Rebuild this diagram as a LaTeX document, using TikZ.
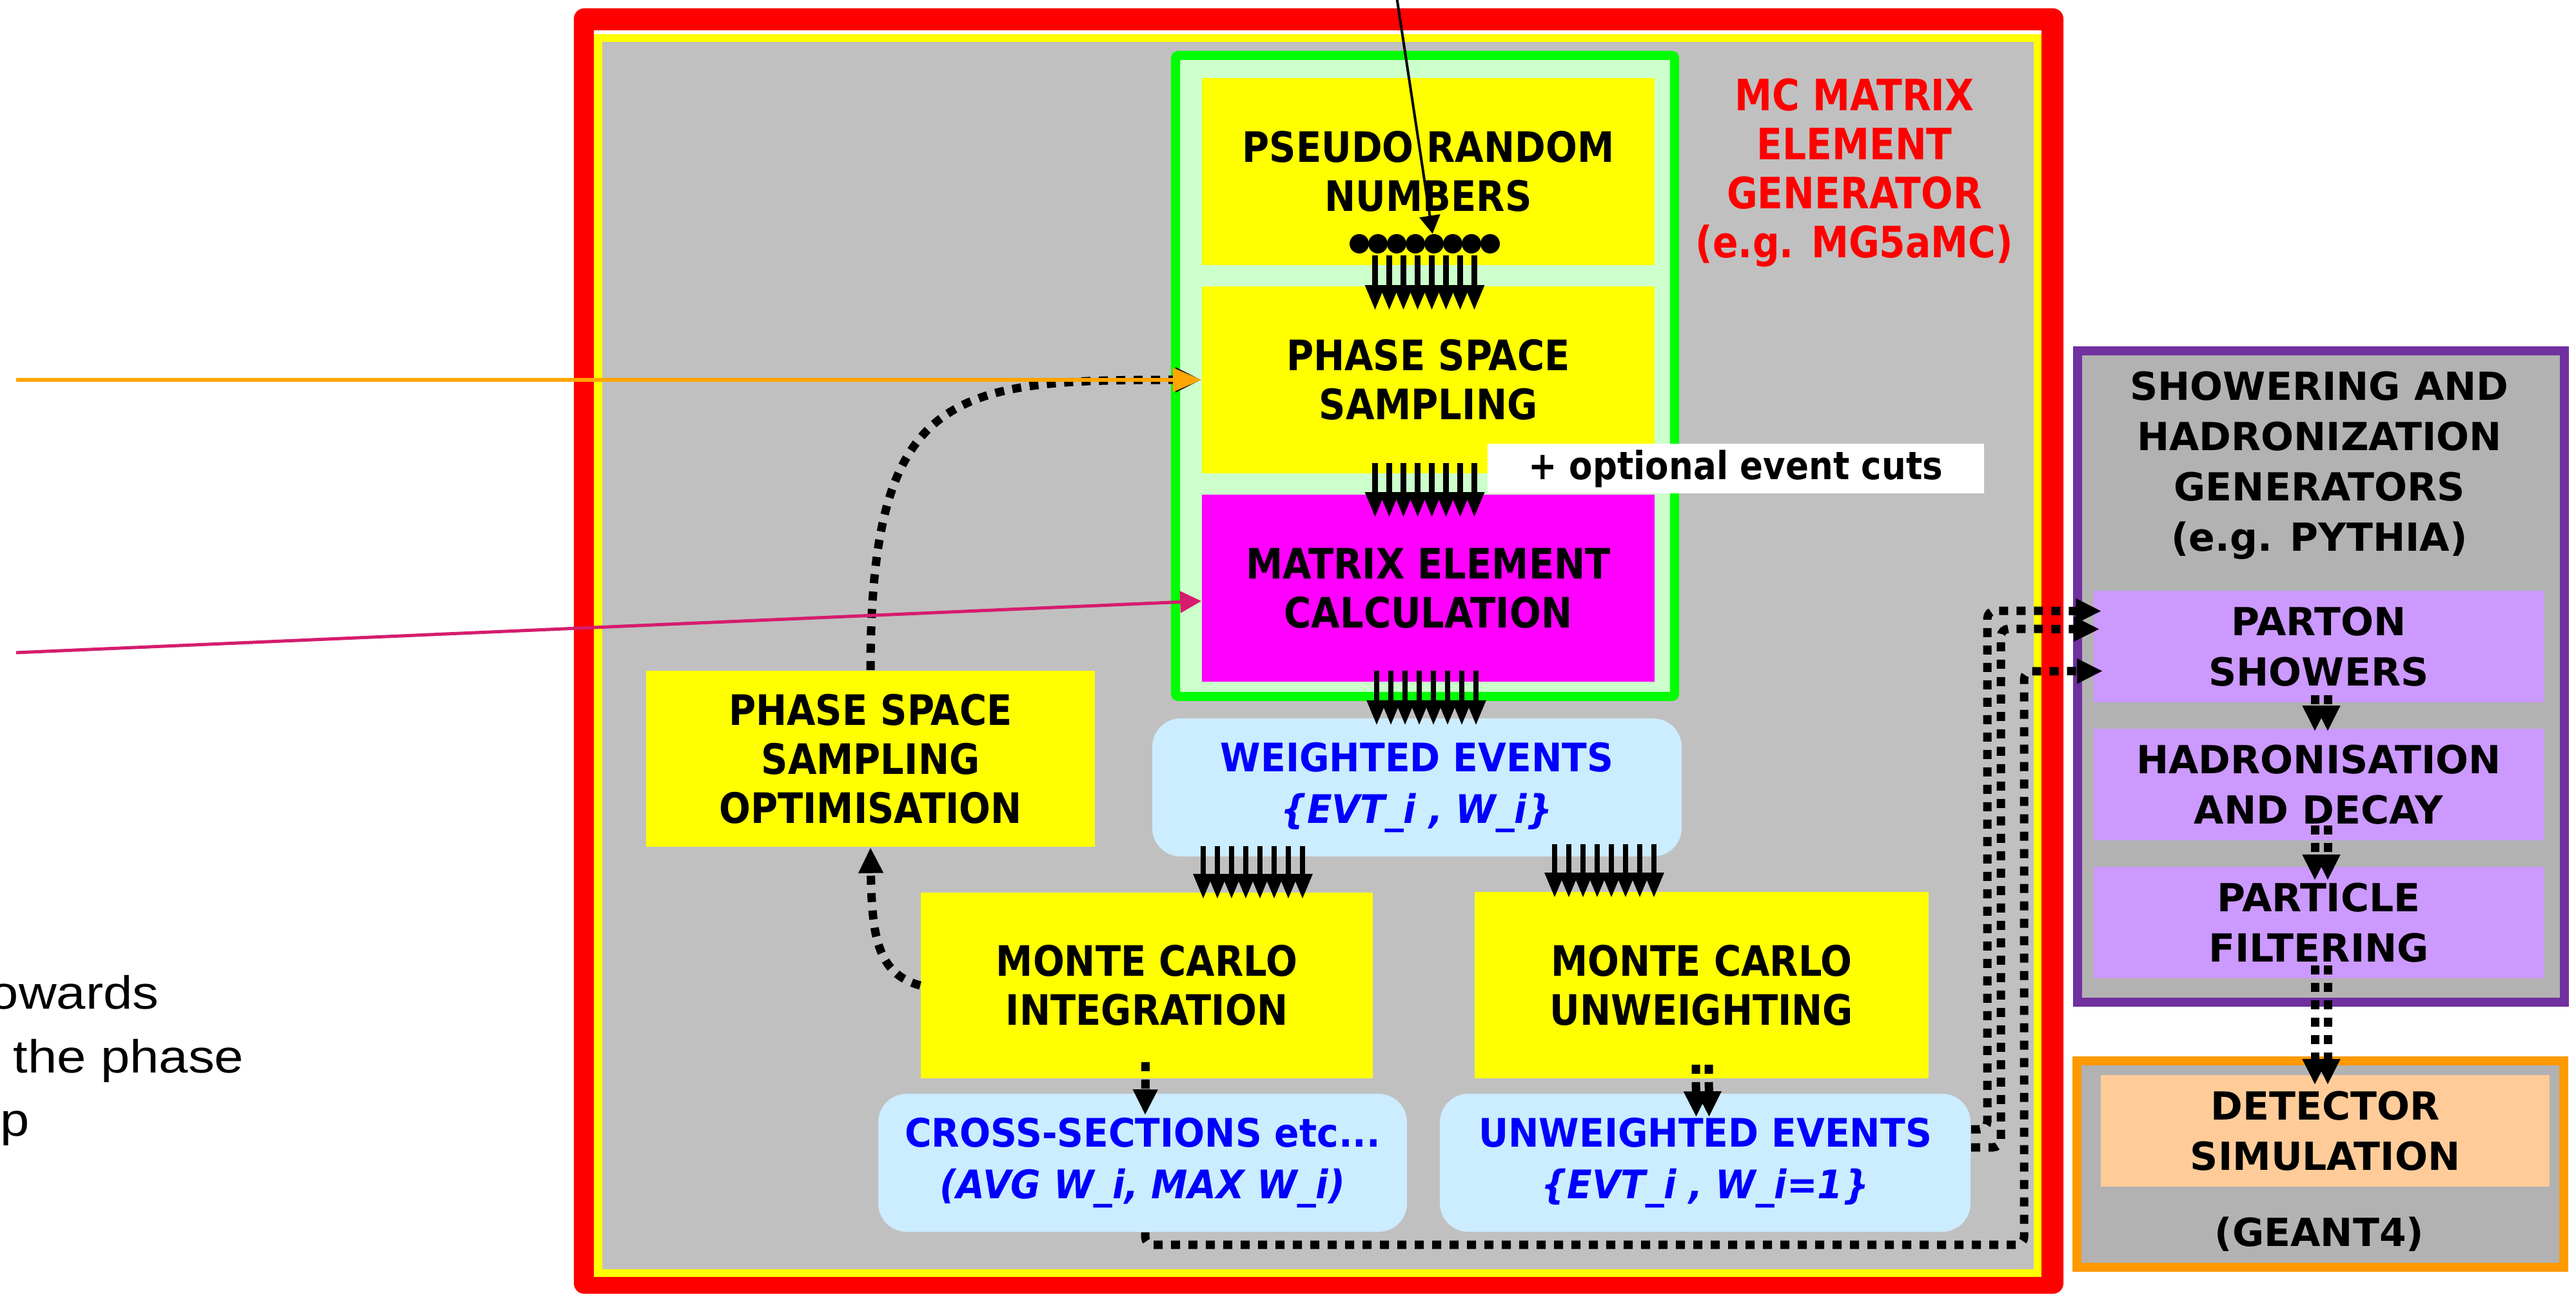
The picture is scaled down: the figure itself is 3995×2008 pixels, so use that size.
\documentclass[tikz,border=0pt]{standalone}
\usepackage{fontspec}
\usetikzlibrary{arrows.meta,calc}
\newfontfamily\tah[FakeStretch=0.885]{DejaVu Sans}
\newfontfamily\tahb[FakeStretch=0.93]{DejaVu Sans}
\newfontfamily\tahr[FakeStretch=0.87]{DejaVu Sans}
\newfontfamily\verd{DejaVu Sans}
\newfontfamily\helv[FakeStretch=1.13]{Liberation Sans}
\definecolor{cRed}{HTML}{FF0000}
\definecolor{cYel}{HTML}{FFFF00}
\definecolor{cGray}{HTML}{C0C0C0}
\definecolor{cGrayB}{HTML}{B2B2B2}
\definecolor{cGreen}{HTML}{00FF00}
\definecolor{cLGreen}{HTML}{CCFFCC}
\definecolor{cMag}{HTML}{FF00FF}
\definecolor{cLBlue}{HTML}{CCECFF}
\definecolor{cBlue}{HTML}{0000FF}
\definecolor{cPurp}{HTML}{7030A0}
\definecolor{cLav}{HTML}{CC99FF}
\definecolor{cOrB}{HTML}{FF9900}
\definecolor{cPeach}{HTML}{FFCC99}
\definecolor{cOrLine}{HTML}{FFA500}
\definecolor{cPink}{HTML}{D61C6E}
\newcommand\bundle[2]{%
  \foreach \k in {0,...,7}{%
    \draw[bund] ($(#1)+(-77+22*\k,0)$) -- ($(#2)+(-77+22*\k,0)$);
  }}
\newcommand\dbl[2]{%
  \draw[dotarr] ($(#1)+(-10,0)$) -- ($(#2)+(-10,0)$);
  \draw[dotarr] ($(#1)+(10,0)$) -- ($(#2)+(10,0)$);}
\begin{document}
\begin{tikzpicture}[x=0.25pt,y=-0.25pt,
  ybox/.style={fill=cYel, inner sep=0pt, align=center, font=\tah\bfseries\fontsize{16.25pt}{19pt}\selectfont},
  bbox/.style={fill=cLBlue, rounded corners=11pt, inner sep=0pt, align=center, text=cBlue, font=\tahb\bfseries\fontsize{15.25pt}{20pt}\selectfont},
  pbox/.style={inner sep=0pt, align=center, font=\verd\bfseries\fontsize{15pt}{19.5pt}\selectfont},
  bund/.style={line width=2.1pt, -{Triangle[width=7.25pt,length=9.75pt]}},
  dotl/.style={line width=3.25pt, dash pattern=on 3.5pt off 3.25pt},
  dotarr/.style={dotl, -{Triangle[width=9pt,length=10pt]}},
  dotc/.style={fill=black, circle, inner sep=0pt, minimum size=7.5pt},
  lefttext/.style={inner sep=0pt, anchor=base east, font=\helv\fontsize{18pt}{24pt}\selectfont}]
\useasboundingbox (0,0) rectangle (3995,2008);
\fill[white] (0,0) rectangle (3995,2008);
% main generator frame
\fill[cRed, rounded corners=4pt] (890,13) rectangle (3200,2006);
\fill[white] (921,47) rectangle (3166,1980);
\fill[cYel] (921,53) rectangle (3166,1980);
\fill[cGray] (934,65) rectangle (3154,1968);
% green group
\draw[cGreen, line width=3.5pt, fill=cLGreen, rounded corners=1pt] (1823,86) rectangle (2597,1080);
% boxes
\node[ybox, minimum width=175.5pt, minimum height=72.5pt] (prn) at (2215,266) {PSEUDO RANDOM\\NUMBERS};
\node[ybox, minimum width=175.5pt, minimum height=72.5pt] (pss) at (2215,589) {PHASE SPACE\\SAMPLING};
\node[ybox, fill=cMag, minimum width=175.5pt, minimum height=72.5pt] (me) at (2215,912) {MATRIX ELEMENT\\CALCULATION};
\node[fill=white, inner sep=0pt, minimum width=192.5pt, minimum height=19.25pt, font=\tah\bfseries\fontsize{15pt}{17pt}\selectfont] (cuts) at (2692,726.5) {+ optional event cuts};
\node[bbox, minimum width=205.25pt, minimum height=53.5pt] (we) at (2197.5,1221) {WEIGHTED EVENTS\\{\itshape \{EVT\_i , W\_i\}}};
\node[ybox, minimum width=174pt, minimum height=68.25pt] (psso) at (1350,1176.5) {PHASE SPACE\\SAMPLING\\OPTIMISATION};
\node[ybox, minimum width=175.25pt, minimum height=72pt] (mci) at (1778.5,1528) {MONTE CARLO\\INTEGRATION};
\node[ybox, minimum width=176pt, minimum height=72.25pt] (mcu) at (2639,1527.5) {MONTE CARLO\\UNWEIGHTING};
\node[bbox, minimum width=205pt, minimum height=53.5pt] (xs) at (1772,1803) {CROSS-SECTIONS etc...\\{\itshape (AVG W\_i, MAX W\_i)}};
\node[bbox, minimum width=205.75pt, minimum height=53.5pt] (ue) at (2644.5,1803) {UNWEIGHTED EVENTS\\{\itshape \{EVT\_i , W\_i=1\}}};
\node[inner sep=0pt, align=center, text=cRed, font=\tahr\bfseries\fontsize{16.75pt}{19pt}\selectfont] (hdr) at (2876,268) {MC MATRIX\\ELEMENT\\GENERATOR\\(e.g. MG5aMC)};
% random number dots
\foreach \k in {1,...,8}{\node[dotc] (d\k) at (2108+29*\k-29,378) {};}
% showering panel
\draw[cPurp, line width=3.5pt, fill=cGrayB] (3222,544) rectangle (3977,1554);
\node[pbox] (shh) at (3597,722) {SHOWERING AND\\HADRONIZATION\\GENERATORS\\(e.g. PYTHIA)};
\node[pbox, fill=cLav, minimum width=174.5pt, minimum height=43.25pt] (ps) at (3596,1002.5) {PARTON\\SHOWERS};
\node[pbox, fill=cLav, minimum width=174.5pt, minimum height=43.25pt] (had) at (3596,1216.5) {HADRONISATION\\AND DECAY};
\node[pbox, fill=cLav, minimum width=174.5pt, minimum height=43.25pt] (pf) at (3596,1430.5) {PARTICLE\\FILTERING};
% detector panel
\draw[cOrB, line width=3.5pt, fill=cGrayB] (3221,1645) rectangle (3976,1965);
\node[pbox, fill=cPeach, minimum width=174pt, minimum height=43.25pt] (det) at (3606,1753.5) {DETECTOR\\SIMULATION};
\node[pbox] (geant) at (3597,1914) {(GEANT4)};
% left text
\node[lefttext] (t1) at (247,1565) {owards};
\node[lefttext] (t2) at (379,1664) {the phase};
\node[lefttext] (t3) at (47,1761) {p};
% arrow bundles
\coordinate (b1s) at ($(prn.south)+(-5.5,-16)$);
\coordinate (b1e) at ($(pss.north)+(-5.5,38)$);
\bundle{b1s}{b1e}
\coordinate (b2s) at ($(pss.south)+(-5.5,-17)$);
\coordinate (b2e) at ($(me.north)+(-5.5,36)$);
\bundle{b2s}{b2e}
\coordinate (b3s) at ($(me.south)+(-3,-18)$);
\coordinate (b3e) at ($(b3s)+(0,85)$);
\bundle{b3s}{b3e}
\coordinate (b4s) at ($(we.south)+(-254.5,-17)$);
\coordinate (b4e) at ($(mci.north)+(164.5,11)$);
\bundle{b4s}{b4e}
\coordinate (b5s) at ($(we.south)+(290.5,-20)$);
\coordinate (b5e) at ($(mcu.north)+(-151,10)$);
\bundle{b5s}{b5e}
% dotted connectors
\draw[dotarr] (mci.west) .. controls (1360,1510) and (1352,1450) .. (psso.south);
\draw[dotarr] (psso.north) .. controls (1350,600) and (1480,589) .. (pss.west);
\coordinate (c3s) at ($(mci.south)+(-2,-26)$);
\coordinate (c3e) at ($(xs.north)+(4,34)$);
\draw[dotarr] (c3s) -- (c3e);
\coordinate (c4s) at ($(mcu.south)+(1,-22)$);
\coordinate (c4e) at ($(ue.north)+(-4,37)$);
\dbl{c4s}{c4e}
\coordinate (uA) at ($(ue.east)+(0,-52)$);
\coordinate (pA) at ($(ps.west)+(13,-55)$);
\draw[dotarr, rounded corners=3pt] (uA) -- (3082,1751) -- (3082,947) -- (pA);
\coordinate (uB) at ($(ue.east)+(0,-24)$);
\coordinate (pB) at ($(ps.west)+(10,-27)$);
\draw[dotarr, rounded corners=3pt] (uB) -- (3103,1779) -- (3103,975) -- (pB);
\coordinate (xC) at ($(xs.south)+(4,0)$);
\coordinate (pC) at ($(ps.west)+(15,38)$);
\draw[dotarr, rounded corners=3pt] (xC) -- (1776,1930) -- (3139,1930) -- (3139,1041) -- (pC);
\coordinate (c6s) at ($(ps.south)+(4,-12)$);
\coordinate (c6e) at ($(had.north)+(4,5)$);
\dbl{c6s}{c6e}
\coordinate (c7s) at ($(had.south)+(4,-24)$);
\coordinate (c7e) at ($(pf.north)+(4,22)$);
\dbl{c7s}{c7e}
\coordinate (c8s) at ($(pf.south)+(4,-21)$);
\coordinate (c8e) at ($(det.north)+(-6,16)$);
\dbl{c8s}{c8e}
% incoming lines
\coordinate (topin) at (2166,-5);
\draw[line width=1pt, -{Triangle[width=8pt,length=7pt]}] (topin) -- (d5);
\coordinate (oin) at (25,589);
\draw[cOrLine, line width=1.5pt, -{Triangle[width=9pt,length=11pt]}] (oin) -- (pss.west);
\coordinate (min) at (25,1012);
\coordinate (mend) at ($(me.west)+(0,20)$);
\draw[cPink, line width=1.25pt, -{Triangle[width=8.25pt,length=8.25pt]}] (min) -- (mend);
\end{tikzpicture}
\end{document}
